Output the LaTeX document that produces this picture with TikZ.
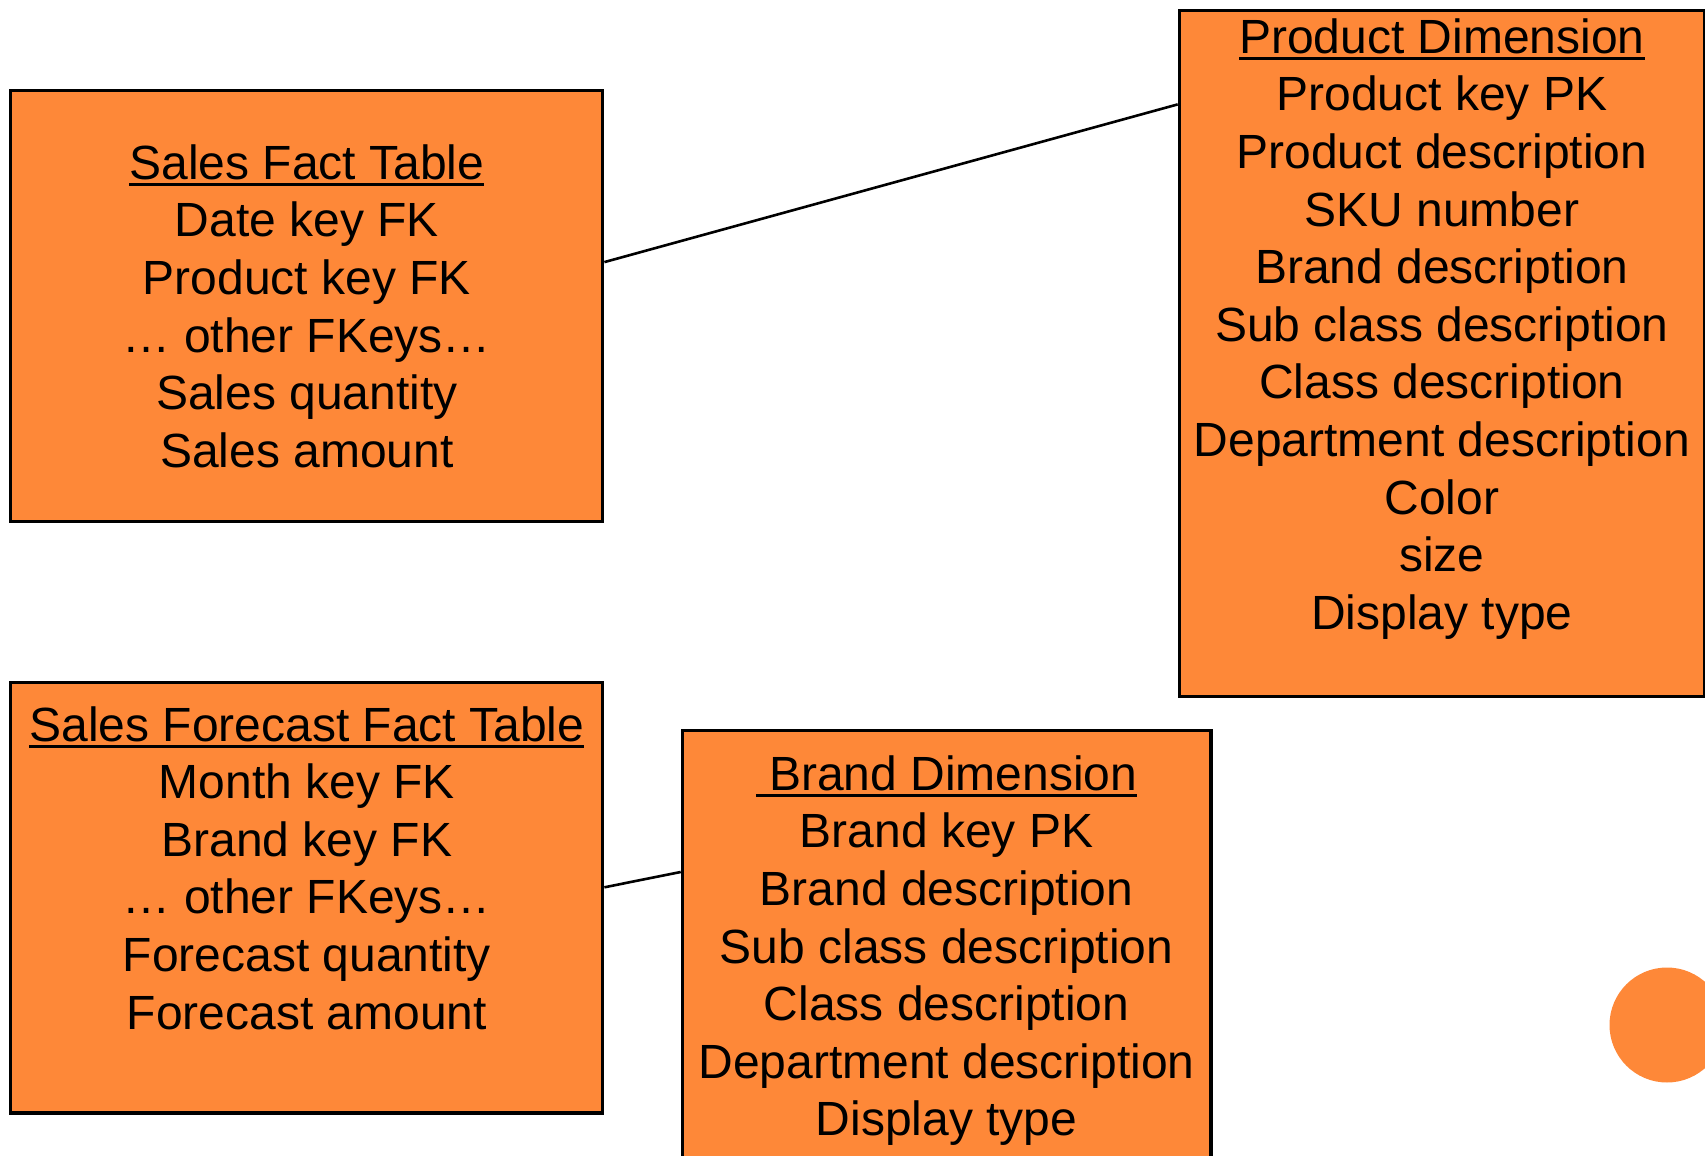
\documentclass[tikz,border=0pt]{standalone}
\usepackage{fontspec}
\setmainfont{Liberation Sans}
\usepackage{xcolor}
\usetikzlibrary{positioning}
\definecolor{tableorange}{RGB}{254,136,56}
\newcommand{\headline}[1]{\leavevmode\vtop{\hbox{#1}\kern1.6pt\hrule height 1.4pt}}

\begin{document}
\begin{tikzpicture}[x=0.5pt,y=-0.5pt,
    table node/.style={rectangle,draw,line width=1.6pt,fill=tableorange,anchor=north west,inner sep=0pt},
    table text/.style={align=center,inner sep=0pt,font=\fontsize{24}{28.8}\selectfont}]
  \useasboundingbox (0,0) rectangle (1705,1156);

  % boxes
  \node[table node,minimum width=296pt,minimum height=215.3pt] (sales) at (9.2,89.2) {};
  \node[table node,minimum width=262.6pt,minimum height=343.1pt] (product) at (1177.7,8.7) {};
  \node[table node,minimum width=296pt,minimum height=215.2pt] (forecast) at (9.2,681) {};
  \node[table node,minimum width=264.3pt,minimum height=230pt] (brand) at (680.7,728.6) {};
  \node[circle,fill=tableorange,minimum size=57.5pt,inner sep=0pt] (deco) at (1667,1025) {};

  % table contents
  \node[table text] (salestext) at (sales.center)
    {\headline{Sales Fact Table}\\Date key FK\\Product key FK\\… other FKeys…\\Sales quantity\\Sales amount};
  \node[table text,below=4.7pt of product.north] (producttext)
    {\headline{Product Dimension}\\Product key PK\\Product description\\SKU number\\Brand description\\Sub class description\\Class description\\Department description\\Color\\size\\Display type};
  \node[table text,below=12.5pt of forecast.north] (forecasttext)
    {\headline{Sales Forecast Fact Table}\\Month key FK\\Brand key FK\\… other FKeys…\\Forecast quantity\\Forecast amount};
  \node[table text,below=13.3pt of brand.north] (brandtext)
    {\headline{\ Brand Dimension}\\Brand key PK\\Brand description\\Sub class description\\Class description\\Department description\\Display type};

  \path[line width=1.3pt]
	([yshift=-86.45pt]sales.north east) edge ([yshift=-47.85pt]product.north west)
	([yshift=-103.15pt]forecast.north east) edge ([yshift=-71.7pt]brand.north west);
\end{tikzpicture}
\end{document}
